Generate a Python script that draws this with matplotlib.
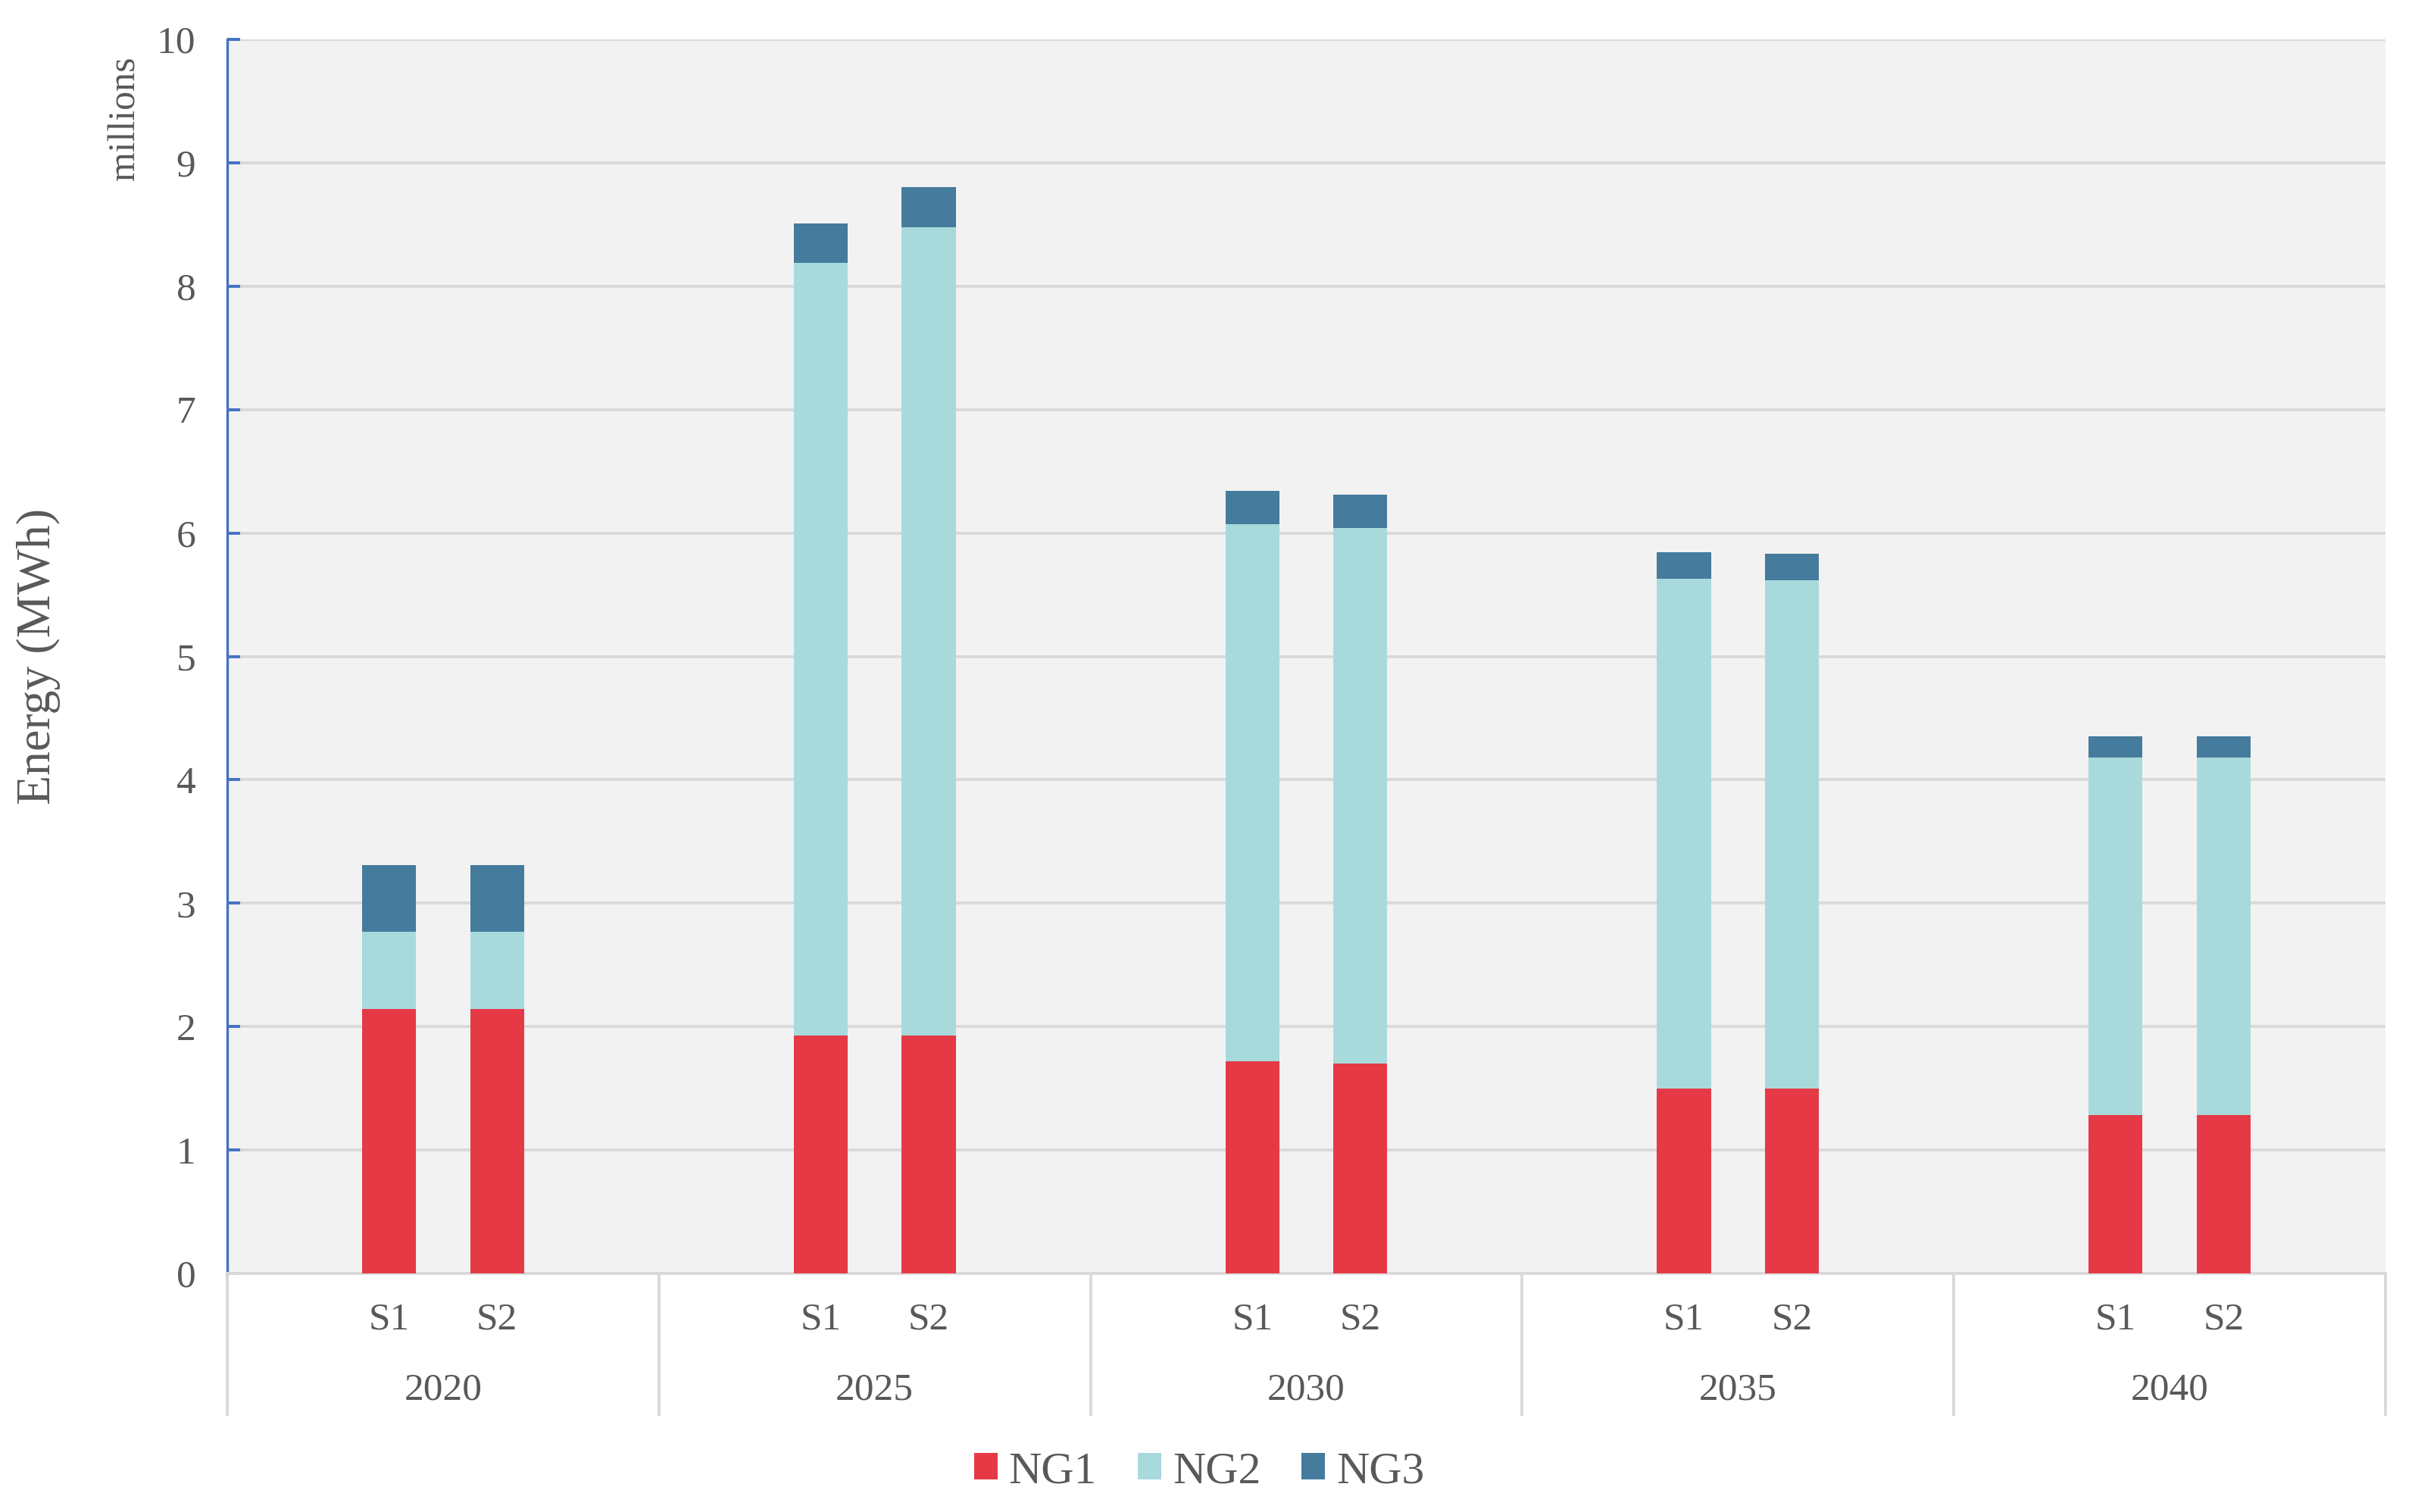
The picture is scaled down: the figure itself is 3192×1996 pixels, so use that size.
import matplotlib
matplotlib.use("Agg")
import matplotlib.pyplot as plt
from matplotlib.patches import Patch

# ---- data (millions of MWh) ----
years = ["2020", "2025", "2030", "2035", "2040"]
scenarios = ["S1", "S2"]
ng1 = [2.14, 2.14, 1.93, 1.93, 1.72, 1.70, 1.50, 1.50, 1.28, 1.28]
ng2 = [0.63, 0.63, 6.26, 6.55, 4.35, 4.34, 4.13, 4.12, 2.90, 2.90]
ng3 = [0.54, 0.54, 0.32, 0.32, 0.27, 0.27, 0.215, 0.21, 0.17, 0.17]
series_names = ["NG1", "NG2", "NG3"]
colors = ["#E63946", "#A8DADC", "#457B9D"]
yticks = list(range(0, 11))

plt.rcParams['font.family'] = ['Liberation Serif', 'DejaVu Serif']
txt = "#595959"

W, H = 3192, 1996
fig = plt.figure(figsize=(W / 200, H / 200), dpi=200)
left, right, top, bottom = 300, 3149, 52, 1681
ax = fig.add_axes([left / W, 1 - bottom / H, (right - left) / W, (bottom - top) / H])
ax.set_facecolor("#F2F2F2")

# 4 slots per year: blank, S1, S2, blank
slots_per_group = 4
xs = []
for g in range(len(years)):
    for s in range(len(scenarios)):
        xs.append(g * slots_per_group + 1.5 + s)

bw = 0.5
b2 = [a + b for a, b in zip(ng1, ng2)]
ax.bar(xs, ng1, bw, color=colors[0], zorder=3)
ax.bar(xs, ng2, bw, bottom=ng1, color=colors[1], zorder=3)
ax.bar(xs, ng3, bw, bottom=b2, color=colors[2], zorder=3)

ax.set_xlim(0, len(years) * slots_per_group)
ax.set_ylim(0, 10)
ax.set_yticks(yticks)
ax.set_xticks([])
ax.yaxis.grid(True, color="#D9D9D9", linewidth=1.4)
ax.set_axisbelow(True)
for sp in ["top", "right"]:
    ax.spines[sp].set_visible(False)
ax.spines["bottom"].set_color("#D9D9D9")
ax.spines["bottom"].set_linewidth(1.4)
ax.spines["left"].set_color("#4472C4")
ax.spines["left"].set_linewidth(1.2)
ax.tick_params(axis="y", direction="in", length=6, width=1.4, color="#4472C4",
               labelcolor=txt, labelsize=18.5, pad=15)

# category axis (two-level)
tr = ax.get_xaxis_transform()
h_ax = bottom - top
y_sub = -(1742 - bottom) / h_ax
y_year = -(1835 - bottom) / h_ax
y_sep = -(1867 - bottom) / h_ax
for i, x in enumerate(xs):
    ax.text(x, y_sub, scenarios[i % 2], transform=tr, ha="center", va="center",
            fontsize=18.5, color=txt)
for g, yr in enumerate(years):
    ax.text(g * slots_per_group + slots_per_group / 2, y_year, yr, transform=tr,
            ha="center", va="center", fontsize=18.5, color=txt)
for g in range(len(years) + 1):
    ax.plot([g * slots_per_group] * 2, [0, y_sep], transform=tr, color="#D9D9D9",
            linewidth=1.4, clip_on=False, zorder=1)

fig.text(51 / W, 1 - 867 / H, "Energy (MWh)", rotation=90, ha="center", va="center",
         fontsize=23, color=txt)
fig.text(165 / W, 1 - 156 / H, "millions", rotation=90, ha="center", va="center",
         fontsize=18, color=txt)

handles = [Patch(facecolor=c, label=n) for c, n in zip(colors, series_names)]
fig.legend(handles=handles, loc="center", bbox_to_anchor=(1583 / W, 1 - 1943 / H),
           ncol=3, frameon=False, fontsize=21.5, labelcolor=txt,
           handlelength=0.52, handleheight=0.52, handletextpad=0.25, columnspacing=0.9)

fig.savefig("out.png", dpi=200)
